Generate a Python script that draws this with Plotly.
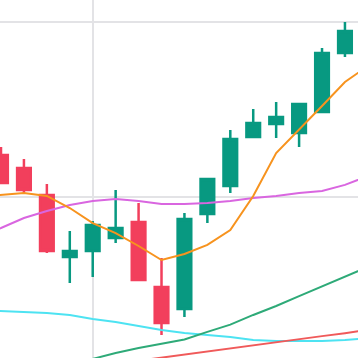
import plotly.graph_objects as go

# candle index positions
idx = list(range(16))
opens  = [102.40, 101.66, 100.11, 96.57, 96.91, 97.66, 98.57, 94.86, 93.60, 99.03, 100.63, 103.43, 104.17, 103.66, 104.86, 108.23]
highs  = [102.86, 102.17, 100.74, 98.06, 98.63, 100.40, 99.66, 96.51, 99.09, 101.09, 103.83, 105.03, 105.43, 105.37, 108.51, 110.00]
lows   = [100.74, 100.23, 96.80, 95.09, 95.43, 97.37, 95.20, 92.11, 93.14, 98.51, 100.23, 103.43, 103.37, 102.86, 104.80, 108.00]
closes = [100.80, 100.40, 96.91, 96.91, 98.40, 98.23, 95.26, 92.80, 98.74, 101.03, 103.31, 104.23, 104.57, 105.31, 108.23, 109.49]

# moving averages (index positions -1..16)
ma_idx = list(range(-1, 17))
ma_fast = [100.00, 100.11, 100.23, 100.06, 99.37, 98.51, 97.94, 97.20, 96.40, 96.74, 97.26, 98.11, 100.06, 102.51, 103.83, 105.20, 106.57, 107.49]
ma_mid  = [97.71, 98.23, 98.80, 99.20, 99.54, 99.77, 99.89, 99.77, 99.60, 99.60, 99.66, 99.77, 99.94, 100.06, 100.23, 100.34, 100.69, 101.20]
ma_long = [93.54, 93.49, 93.43, 93.37, 93.26, 93.03, 92.86, 92.63, 92.40, 92.23, 92.11, 92.00, 91.83, 91.77, 91.77, 91.77, 91.83, 91.94]

g_idx = list(range(2, 17))
ma_green = [90.06, 90.40, 90.74, 91.09, 91.37, 91.60, 91.86, 92.29, 92.71, 93.26, 93.77, 94.34, 94.89, 95.43, 96.00]

r_idx = list(range(5, 17))
ma_red = [90.47, 90.65, 90.82, 91.00, 91.18, 91.35, 91.53, 91.70, 91.87, 92.05, 92.22, 92.40]

grid_x = [4]
grid_y = [100, 110]

RED = "#F23F5C"
GREEN = "#089981"

fig = go.Figure()

fig.add_trace(go.Scatter(x=ma_idx, y=ma_long, mode="lines", line=dict(color="#4DE3F2", width=2), hoverinfo="skip"))
fig.add_trace(go.Scatter(x=r_idx, y=ma_red, mode="lines", line=dict(color="#F05A5A", width=2), hoverinfo="skip"))
fig.add_trace(go.Scatter(x=g_idx, y=ma_green, mode="lines", line=dict(color="#2EAA78", width=2), hoverinfo="skip"))

fig.add_trace(go.Candlestick(
    x=idx, open=opens, high=highs, low=lows, close=closes,
    increasing=dict(line=dict(color=GREEN, width=2.5), fillcolor=GREEN),
    decreasing=dict(line=dict(color=RED, width=2.5), fillcolor=RED),
    whiskerwidth=0,
))

fig.add_trace(go.Scatter(x=ma_idx, y=ma_mid, mode="lines", line=dict(color="#D966E0", width=2), hoverinfo="skip"))
fig.add_trace(go.Scatter(x=ma_idx, y=ma_fast, mode="lines", line=dict(color="#F7931E", width=2), hoverinfo="skip"))

fig.update_layout(
    width=358, height=358,
    margin=dict(l=0, r=0, t=0, b=0),
    paper_bgcolor="white", plot_bgcolor="white",
    showlegend=False,
    boxgap=0.15,
)
fig.update_xaxes(
    range=[-1 / 22.93, 357 / 22.93],
    tickvals=grid_x, showticklabels=False, ticks="",
    showgrid=True, gridcolor="#E3E3E6", gridwidth=1.5,
    zeroline=False, showline=False,
    rangeslider=dict(visible=False),
)
fig.update_yaxes(
    range=[100 - 161 / 17.5, 100 + 197 / 17.5],
    tickvals=grid_y, showticklabels=False, ticks="",
    showgrid=True, gridcolor="#E3E3E6", gridwidth=1.5,
    zeroline=False, showline=False,
)

fig.write_html(
    "out.html",
    config={"displayModeBar": False},
    post_script="document.body.style.margin='0';document.body.style.overflow='hidden';",
)
